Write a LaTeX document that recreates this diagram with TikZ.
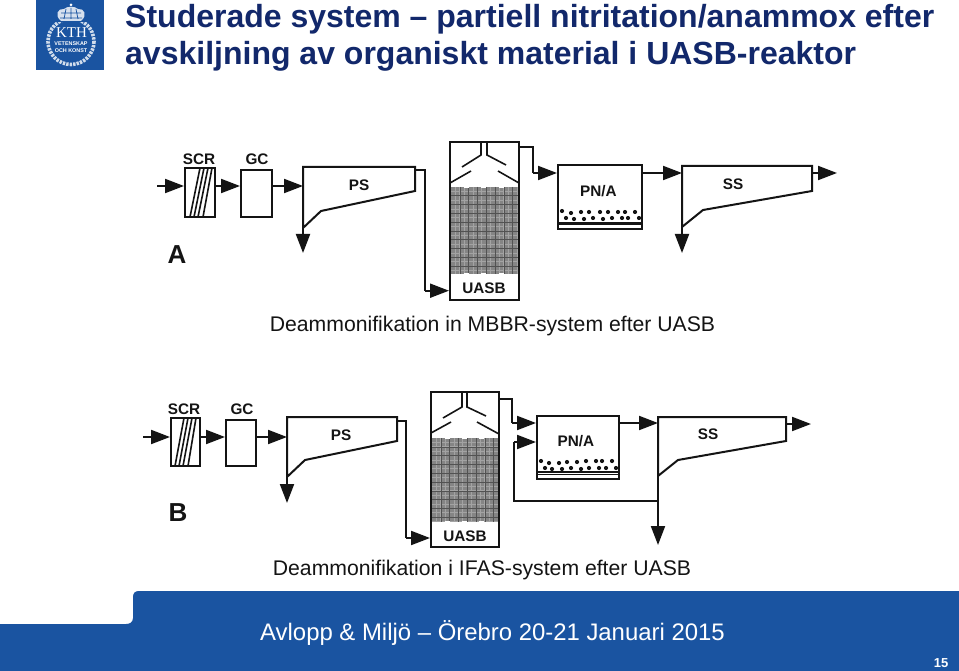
\documentclass[tikz,border=0pt]{standalone}
\usepackage{fontspec}
\setmainfont{Liberation Sans}
\newfontfamily\kthserif{Liberation Serif}
\usetikzlibrary{arrows.meta,fit,shapes.geometric}
\definecolor{kth}{HTML}{1A54A1}
\definecolor{titleblue}{HTML}{12286B}
\definecolor{ink}{HTML}{141414}
\tikzset{
  x=1pt,y=-1pt,
  ln/.style={line width=2pt,ink,line join=miter},
  thin ln/.style={line width=1.6pt,ink},
  unit/.style={draw=ink,line width=2pt,inner sep=0pt,fill=white},
  flow/.style={line width=2pt,ink,-{Triangle[length=19pt,width=14pt]}},
  lab/.style={font=\fontsize{15.3}{15.3}\selectfont\bfseries,inner sep=0pt,text=ink},
  captxt/.style={font=\fontsize{21.2}{21.2}\selectfont,inner sep=0pt,text=ink},
  ttl/.style={font=\fontsize{32}{32}\selectfont\bfseries,inner sep=0pt,anchor=base west,text=titleblue},
  dotmark/.style={circle,fill=ink,inner sep=0pt,minimum size=4.2pt},
}
% grid block: x1 y1 x2 y2
\newcommand{\mediagrid}[4]{%
  \fill[black!48] (#1,#2) rectangle (#3,#4);
  \pgfmathsetmacro{\xa}{#1+4.4}\pgfmathsetmacro{\xb}{#1+8.8}
  \foreach \gx in {\xa,\xb,...,#3}{\draw[black!36,line width=.9pt] (\gx,#2) -- (\gx,#4);}
  \pgfmathsetmacro{\ya}{#2+4.4}\pgfmathsetmacro{\yb}{#2+8.8}
  \foreach \gy in {\ya,\yb,...,#4}{\draw[black!36,line width=.9pt] (#1,\gy) -- (#3,\gy);}
  \pgfmathsetmacro{\xc}{#1+8.8}\pgfmathsetmacro{\xd}{#1+17.6}
  \foreach \gx in {\xc,\xd,...,#3}{\draw[black!68,line width=.6pt] (\gx,#2) -- (\gx,#4);}
  \pgfmathsetmacro{\yc}{#2+8.8}\pgfmathsetmacro{\yd}{#2+17.6}
  \foreach \gy in {\yc,\yd,...,#4}{\draw[black!68,line width=.6pt] (#1,\gy) -- (#3,\gy);}
}
\begin{document}
\begin{tikzpicture}
\useasboundingbox (0,0) rectangle (959,671);
\fill[white] (0,0) rectangle (959,671);

% ---------- logo
\fill[kth] (36,0) rectangle (104,70);
\draw[white!80!kth,line width=3.6pt,dash pattern=on 2.4pt off 1.1pt] (71,41.5) circle (23);
\fill[kth] (54,3) rectangle (88,22.5);
\fill[white!82!kth] (61,21) .. controls (54,15) and (58,8) .. (64,9) .. controls (67,6) and (75,6) .. (78,9) .. controls (84,8) and (88,15) .. (81,21) -- cycle;
\draw[kth,line width=.7pt] (71,8) -- (71,19) (66,9) -- (64,19) (76,9) -- (78,19) (61,13) -- (81,13) (60,18) -- (82,18);
\fill[white] (71,5) circle (1.5);
\node[inner sep=0pt,text=white,font=\fontsize{15}{15}\kthserif] (kthtxt) at (71.5,33) {KTH};
\node[inner sep=0pt,text=white,font=\fontsize{5.4}{5.4}\selectfont\bfseries] (kthb) at (71,44) {VETENSKAP};
\node[inner sep=0pt,text=white,font=\fontsize{5.4}{5.4}\selectfont\bfseries] (kthc) at (71,50.5) {OCH KONST};

% ---------- title
\node[ttl] (t1) at (125,28) {Studerade system – partiell nitritation/anammox efter};
\node[ttl] (t2) at (125,65) {avskiljning av organiskt material i UASB-reaktor};

% ---------- footer
\fill[kth] (0,624) -- (126,624) .. controls (130,624) and (133,622) .. (133,618) -- (133,597) .. controls (133,593) and (135,591) .. (139,591) -- (959,591) -- (959,671) -- (0,671) -- cycle;
\node[inner sep=0pt,text=white,font=\fontsize{23.9}{23.9}\selectfont] (foot) at (492.5,633) {Avlopp \& Miljö – Örebro 20-21 Januari 2015};
\node[inner sep=0pt,text=white,font=\fontsize{13}{13}\selectfont\bfseries] (pg) at (941,663) {15};

% ---------- panel A
\coordinate (yA1) at (0,186);
\coordinate (yA2) at (0,173);
\node[unit,fit={(185,168)(215,217)}] (scrA) {};
\node[unit,fit={(241,170)(272,217)}] (gcA) {};
\foreach \a/\b in {190/200,194/204,198/208,203/212}{\draw[thin ln] (\a,217) -- (\b,168);}
\coordinate (inA) at (157,186);
\draw[flow] (inA) -- (scrA.west |- yA1);
\draw[flow] (scrA.east |- yA1) -- (gcA.west |- yA1);
\coordinate (psAw) at (303,186);
\draw[flow] (gcA.east |- yA1) -- (psAw);
\draw[ln] (303,228) -- (303,167) -- (415,167) -- (415,191) -- (321,211) -- cycle;
\coordinate (psAo) at (303,253);
\draw[flow] (303,228) -- (psAo);
% UASB A
\node[unit,fit={(450,142)(519,300)}] (uA) {};
\mediagrid{451}{187}{518}{274}
\foreach \s in {470,487,505}{\draw[white,line width=1.2pt] (\s-6,187) -- (\s-1,187) (\s-6,274) -- (\s-1,274);}
\draw[thin ln] (481,142.5) -- (481,155) -- (462,167);
\draw[thin ln] (487,142.5) -- (487,155) -- (506,165);
\draw[thin ln] (450,183) -- (471,171);
\draw[thin ln] (519,183) -- (498,171);
\draw[ln] (415,170) -- (425,170) -- (425,290.7);
\draw[flow] (425,290.7) -- (uA.west |- 0,290.7);
\node[unit,fit={(558,165)(642,229)}] (pnA) {};
\fill[ink] (559,222.5) rectangle (641,225.5);
\foreach \dx/\dy in {562/211,571/213,581/212,589/212,600/212,608/212,618/212,625/212,635/212,566/218,574/219,584/219,593/218,603/219,612/218,622/218,628/218,639/218}{\node[dotmark] at (\dx,\dy) {};}
\draw[ln] (519,147.5) -- (533,147.5) -- (533,173);
\draw[flow] (533,173) -- (pnA.west |- yA2);
\coordinate (ssAw) at (682,173);
\draw[flow] (pnA.east |- yA2) -- (ssAw);
\draw[ln] (682,227) -- (682,166) -- (812,166) -- (812,191) -- (703,210) -- cycle;
\coordinate (ssAd) at (682,253);
\draw[flow] (682,227) -- (ssAd);
\coordinate (ssAo) at (837,173);
\draw[flow] (812,173) -- (ssAo);
\node[lab] (lScrA) at (199,159) {SCR};
\node[lab] (lGcA) at (257,159) {GC};
\node[lab] (lPsA) at (359,185) {PS};
\node[lab] (lUA) at (484,288) {UASB};
\node[lab] (lPnA) at (598.5,191) {PN/A};
\node[lab] (lSsA) at (733,184) {SS};
\node[lab,font=\fontsize{26}{26}\selectfont\bfseries] (lA) at (177,255) {A};
\node[captxt] (capA) at (492.5,326.5) {Deammonifikation in MBBR-system efter UASB};

% ---------- panel B
\coordinate (yB1) at (0,437);
\coordinate (yB2) at (0,423);
\node[unit,fit={(171,418)(200,466)}] (scrB) {};
\node[unit,fit={(226,420)(256,466)}] (gcB) {};
\foreach \a/\b in {175/184,179/188,183/192,188/196}{\draw[thin ln] (\a,466) -- (\b,418);}
\coordinate (inB) at (143,437);
\draw[flow] (inB) -- (scrB.west |- yB1);
\draw[flow] (scrB.east |- yB1) -- (gcB.west |- yB1);
\coordinate (psBw) at (287,437);
\draw[flow] (gcB.east |- yB1) -- (psBw);
\draw[ln] (287,477) -- (287,417) -- (397,417) -- (397,441) -- (305,460) -- cycle;
\coordinate (psBo) at (287,503);
\draw[flow] (287,477) -- (psBo);
\node[unit,fit={(431,392)(499,547)}] (uB) {};
\mediagrid{432}{438}{498}{522}
\foreach \s in {451,468,485}{\draw[white,line width=1.2pt] (\s-6,438) -- (\s-1,438) (\s-6,522) -- (\s-1,522);}
\draw[thin ln] (462,392.5) -- (462,407) -- (443,418);
\draw[thin ln] (467,392.5) -- (467,407) -- (486,416);
\draw[thin ln] (431,433) -- (451,422);
\draw[thin ln] (499,434) -- (477,422);
\draw[ln] (397,421) -- (406,421) -- (406,538);
\draw[flow] (406,538) -- (uB.west |- 0,538);
\node[unit,fit={(537,416)(619,479)}] (pnB) {};
\draw[ink,line width=1.3pt] (538,472) -- (618,472) (538,474.8) -- (618,474.8);
\foreach \dx/\dy in {541/461,549/463,559/463,567/462,577/462,586/461,596/461,602/461,612/461,545/468,552/469,562/469,571/468,581/469,589/468,599/468,606/468,616/468}{\node[dotmark] at (\dx,\dy) {};}
\draw[ln] (499,398.5) -- (512,398.5) -- (512,423);
\draw[flow] (512,423) -- (pnB.west |- yB2);
\coordinate (ret) at (658,501);
\draw[ln] (ret) -- (514,501) -- (514,442);
\draw[flow] (514,442) -- (pnB.west |- 0,442);
\coordinate (ssBw) at (658,423);
\draw[flow] (pnB.east |- yB2) -- (ssBw);
\draw[ln] (658,476) -- (658,417) -- (786,417) -- (786,441) -- (678,460) -- cycle;
\coordinate (ssBd) at (658,545);
\draw[flow] (658,476) -- (ssBd);
\coordinate (ssBo) at (811,424);
\draw[flow] (786,424) -- (ssBo);
\node[lab] (lScrB) at (184,409) {SCR};
\node[lab] (lGcB) at (242,409) {GC};
\node[lab] (lPsB) at (341,435) {PS};
\node[lab] (lUB) at (465,536) {UASB};
\node[lab] (lPnB) at (576,441) {PN/A};
\node[lab] (lSsB) at (708,434) {SS};
\node[lab,font=\fontsize{26}{26}\selectfont\bfseries] (lB) at (178,513) {B};
\node[captxt] (capB) at (482,570.5) {Deammonifikation i IFAS-system efter UASB};
\end{tikzpicture}
\end{document}
